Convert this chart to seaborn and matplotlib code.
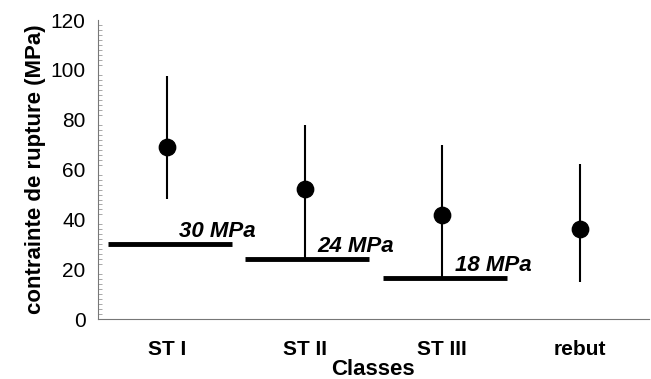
import matplotlib
matplotlib.use("Agg")
import matplotlib.pyplot as plt
import seaborn as sns
import pandas as pd
from matplotlib.ticker import MultipleLocator

# values
classes = ["ST I", "ST II", "ST III", "rebut"]
mean_stress = [69.1, 52.1, 41.8, 36.3]
low_stress = [48.2, 24.2, 16.7, 14.7]
high_stress = [97.4, 77.7, 69.8, 62.1]

threshold_classes = ["ST I", "ST II", "ST III"]
threshold_levels = [30.0, 24.2, 16.7]
threshold_labels = ["30 MPa", "24 MPa", "18 MPa"]

sns.set_theme(style="white")
plt.rcParams["font.family"] = ["Liberation Sans", "DejaVu Sans"]
plt.rcParams.update({"text.color": "black", "axes.labelcolor": "black",
                     "xtick.labelcolor": "black", "ytick.labelcolor": "black"})

df = pd.DataFrame({"classe": classes, "moyenne": mean_stress,
                   "bas": low_stress, "haut": high_stress})

fig = plt.figure(figsize=(6.51, 3.79), dpi=100)
ax = fig.add_axes([0.1505, 0.158, 0.846, 0.789])

pos = {c: i for i, c in enumerate(classes)}

# min-max bars
ax.vlines([pos[c] for c in df["classe"]], df["bas"], df["haut"],
          color="black", linewidth=1.5, zorder=2)

sns.scatterplot(data=df, x="classe", y="moyenne", ax=ax, color="black",
                s=140, edgecolor="black", zorder=3, legend=False)

# admissible stress per class
for c, lvl, lab in zip(threshold_classes, threshold_levels, threshold_labels):
    i = pos[c]
    ax.hlines(lvl, i - 0.43, i + 0.47, color="black", linewidth=3.5, zorder=2)
    ax.text(i + 0.09, lvl + 0.8, lab, fontsize=16, fontweight="bold",
            fontstyle="italic", ha="left", va="bottom")

ax.set_xlim(-0.5, len(classes) - 0.5)
ax.set_ylim(0, 120)
ax.yaxis.set_major_locator(MultipleLocator(20))
ax.yaxis.set_minor_locator(MultipleLocator(2))

ax.set_xticks(range(len(classes)))
ax.set_xticklabels(classes, fontsize=15, fontweight="bold")
ax.set_xticks([i - 0.5 for i in range(len(classes) + 1)], minor=True)
ax.tick_params(axis="x", which="major", length=0, pad=15)
ax.tick_params(axis="x", which="minor", length=5, width=0.8, color="#777777",
               direction="out")
ax.tick_params(axis="y", which="major", length=7, width=0.8, color="#777777",
               direction="out", labelsize=15, pad=2)
ax.tick_params(axis="y", which="minor", length=3, width=0.6, color="#999999",
               direction="in", left=True)

ax.set_xlabel("Classes", fontsize=16, fontweight="bold", labelpad=0)
ax.set_ylabel("contrainte de rupture (MPa)", fontsize=16, fontweight="bold",
              labelpad=3)

for side in ["top", "right"]:
    ax.spines[side].set_visible(False)
for side in ["left", "bottom"]:
    ax.spines[side].set_color("#777777")
    ax.spines[side].set_linewidth(0.8)

fig.savefig("out.png", dpi=100)
plt.close(fig)
